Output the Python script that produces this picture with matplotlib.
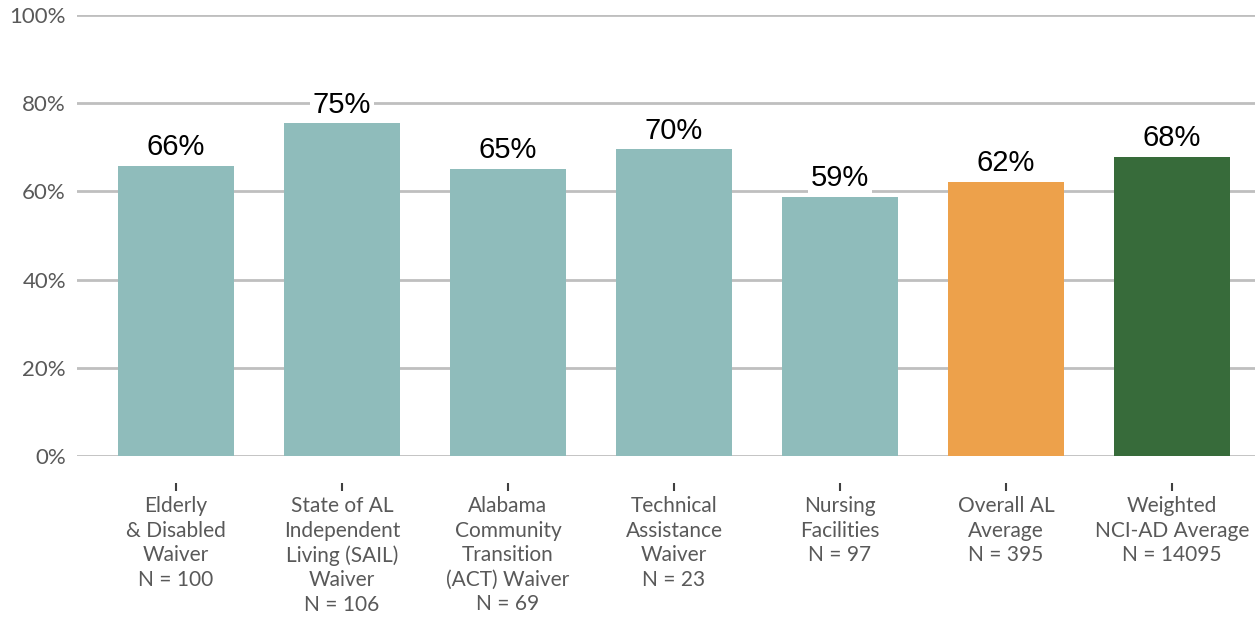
import matplotlib.pyplot as plt
import numpy as np

categories = ["Elderly\n& Disabled\nWaiver\nN = 100",
              "State of AL\nIndependent\nLiving (SAIL)\nWaiver\nN = 106",
              "Alabama\nCommunity\nTransition\n(ACT) Waiver\nN = 69",
              "Technical\nAssistance\nWaiver\nN = 23",
              "Nursing\nFacilities\nN = 97",
              "Overall AL\nAverage\nN = 395",
              "Weighted\nNCI-AD Average\nN = 14095"]
values = [66, 75, 65, 70, 59, 62, 68]
heights = [65.8, 75.4, 65.1, 69.5, 58.8, 62.2, 67.9]
colors = ["#8FBCBB"] * 5 + ["#EDA14B", "#376B3A"]

fig = plt.figure(figsize=(12.55, 6.17), dpi=100)
ax = fig.add_axes([0.0614, 0.261, 0.9386, 0.7147])

x = np.arange(len(categories))
ax.bar(x, heights, width=0.7, color=colors, zorder=2)

for xi, h, v in zip(x, heights, values):
    ax.text(xi, h + 1.0, f"{v}%", ha="center", va="bottom", fontsize=21,
            family="Liberation Sans", color="black", zorder=3,
            bbox=dict(facecolor="white", edgecolor="none", pad=2))

ax.set_ylim(0, 100)
ax.set_xlim(-0.596, 6.5)
ax.set_yticks(range(0, 101, 20))
ax.set_yticklabels([f"{t}%" for t in range(0, 101, 20)])
ax.yaxis.grid(True, color="#BFBFBF", linewidth=2, zorder=0)
ax.set_axisbelow(True)

for s in ["top", "right", "left"]:
    ax.spines[s].set_visible(False)
ax.spines["bottom"].set_position(("outward", 25))
ax.spines["bottom"].set_visible(False)

ax.set_xticks(x)
ax.set_xticklabels(categories, fontsize=15, family="Lato", color="#595959",
                   linespacing=1.28)
ax.tick_params(axis="x", length=6, width=1.5, color="#404040", pad=4,
               direction="in")
ax.tick_params(axis="y", length=0, pad=8, labelsize=16, labelcolor="#595959")
for lbl in ax.get_yticklabels():
    lbl.set_family("Lato")

fig.savefig("out.png", dpi=100)
